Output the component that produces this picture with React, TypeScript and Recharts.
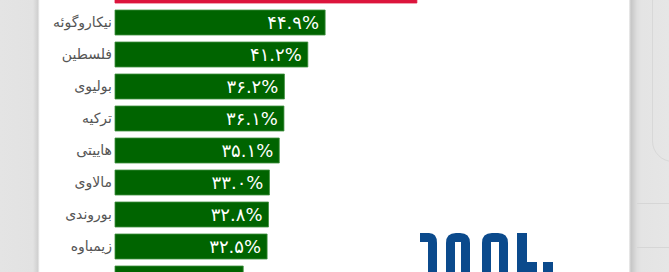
import React from "react";
import { BarChart, Bar, XAxis, YAxis, Cell, LabelList } from "recharts";

const countries = [
  "ایران",
  "نیکاروگوئه",
  "فلسطین",
  "بولیوی",
  "ترکیه",
  "هاییتی",
  "مالاوی",
  "بوروندی",
  "زیمباوه",
  "سودان",
];
const values = [64.5, 44.9, 41.2, 36.2, 36.1, 35.1, 33.0, 32.8, 32.5, 27.4];
const barColors = ["#DC143C", "#006400", "#006400", "#006400", "#006400", "#006400", "#006400", "#006400", "#006400", "#006400"];

const data = countries.map((name, i) => ({ name, value: values[i], fill: barColors[i] }));

const persianDigits = "۰۱۲۳۴۵۶۷۸۹";
const toPersian = (v: any) =>
  Number(v).toFixed(1).replace(/\d/g, (d) => persianDigits[Number(d)]) + "%";

const FONT = "'DejaVu Sans', sans-serif";

export default function App() {
  return (
    <div
      style={{
        position: "fixed",
        left: 0,
        top: 0,
        width: 669,
        height: 272,
        overflow: "hidden",
        background: "#ffffff",
      }}
    >
      <div
        style={{
          position: "absolute",
          left: 0,
          top: 0,
          width: 40,
          height: 272,
          background:
            "linear-gradient(to right, #e4e4e4 0px, #e2e2e2 33px, #cfcfcf 38px, #f4f4f4 39px, #ffffff 40px)",
        }}
      />
      <div
        style={{
          position: "absolute",
          left: 629,
          top: 0,
          width: 40,
          height: 272,
          background:
            "linear-gradient(to right, #f0f0f0 0px, #c6c6c6 2px, #d2d2d2 5px, #dedede 8px, #e4e4e4 12px, #e6e6e6 40px)",
        }}
      />
      <div style={{ position: "absolute", left: 637, top: 203, width: 32, height: 1, background: "#d6d6d6" }} />
      <div style={{ position: "absolute", left: 637, top: 247, width: 32, height: 1, background: "#d6d6d6" }} />
      <div
        style={{
          position: "absolute",
          left: 652,
          top: -20,
          width: 40,
          height: 180,
          border: "1px solid #d8d8d8",
          borderRadius: 24,
        }}
      />
      <div style={{ position: "absolute", left: 0, top: -26 }}>
        <BarChart
          width={583}
          height={320}
          data={data}
          layout="vertical"
          margin={{ top: 0, right: 0, bottom: 0, left: 0 }}
        >
          <XAxis type="number" domain={[0, 100]} hide />
          <YAxis
            type="category"
            dataKey="name"
            width={115}
            axisLine={false}
            tickLine={false}
            tickSize={0}
            tickMargin={3}
            interval={0}
            tick={{ fill: "#555555", fontSize: 14, fontFamily: FONT }}
          />
          <Bar dataKey="value" barSize={25} isAnimationActive={false} stroke="#3f8f3f" strokeWidth={0.8}>
            {data.map((d, i) => (
              <Cell key={i} fill={d.fill} stroke={i === 0 ? d.fill : "#3f8f3f"} />
            ))}
            <LabelList
              dataKey="value"
              position="insideRight"
              offset={6}
              formatter={toPersian}
              fill="#ffffff"
              style={{ fontSize: 18, fontFamily: FONT, fill: "#ffffff" }}
            />
          </Bar>
        </BarChart>
      </div>
      <svg
        width={669}
        height={272}
        style={{ position: "absolute", left: 0, top: 0 }}
      >
        <g fill="#0b4a8c">
          <path d="M420 233 H429 Q437 233 437 243 V272 H428 V242 H420 Z" />
          <path d="M446 272 V243 Q446 233 456 233 H460 Q470 233 470 243 V272 H461 V242 H455 V272 Z" />
          <path d="M482 272 V243 Q482 233 492 233 H498 Q508 233 508 243 V272 H499 V242 H491 V272 Z" />
          <path d="M517 233 H527 V262 H537 V272 H517 Z" />
          <rect x={543} y={262} width={10} height={10} />
        </g>
      </svg>
    </div>
  );
}
